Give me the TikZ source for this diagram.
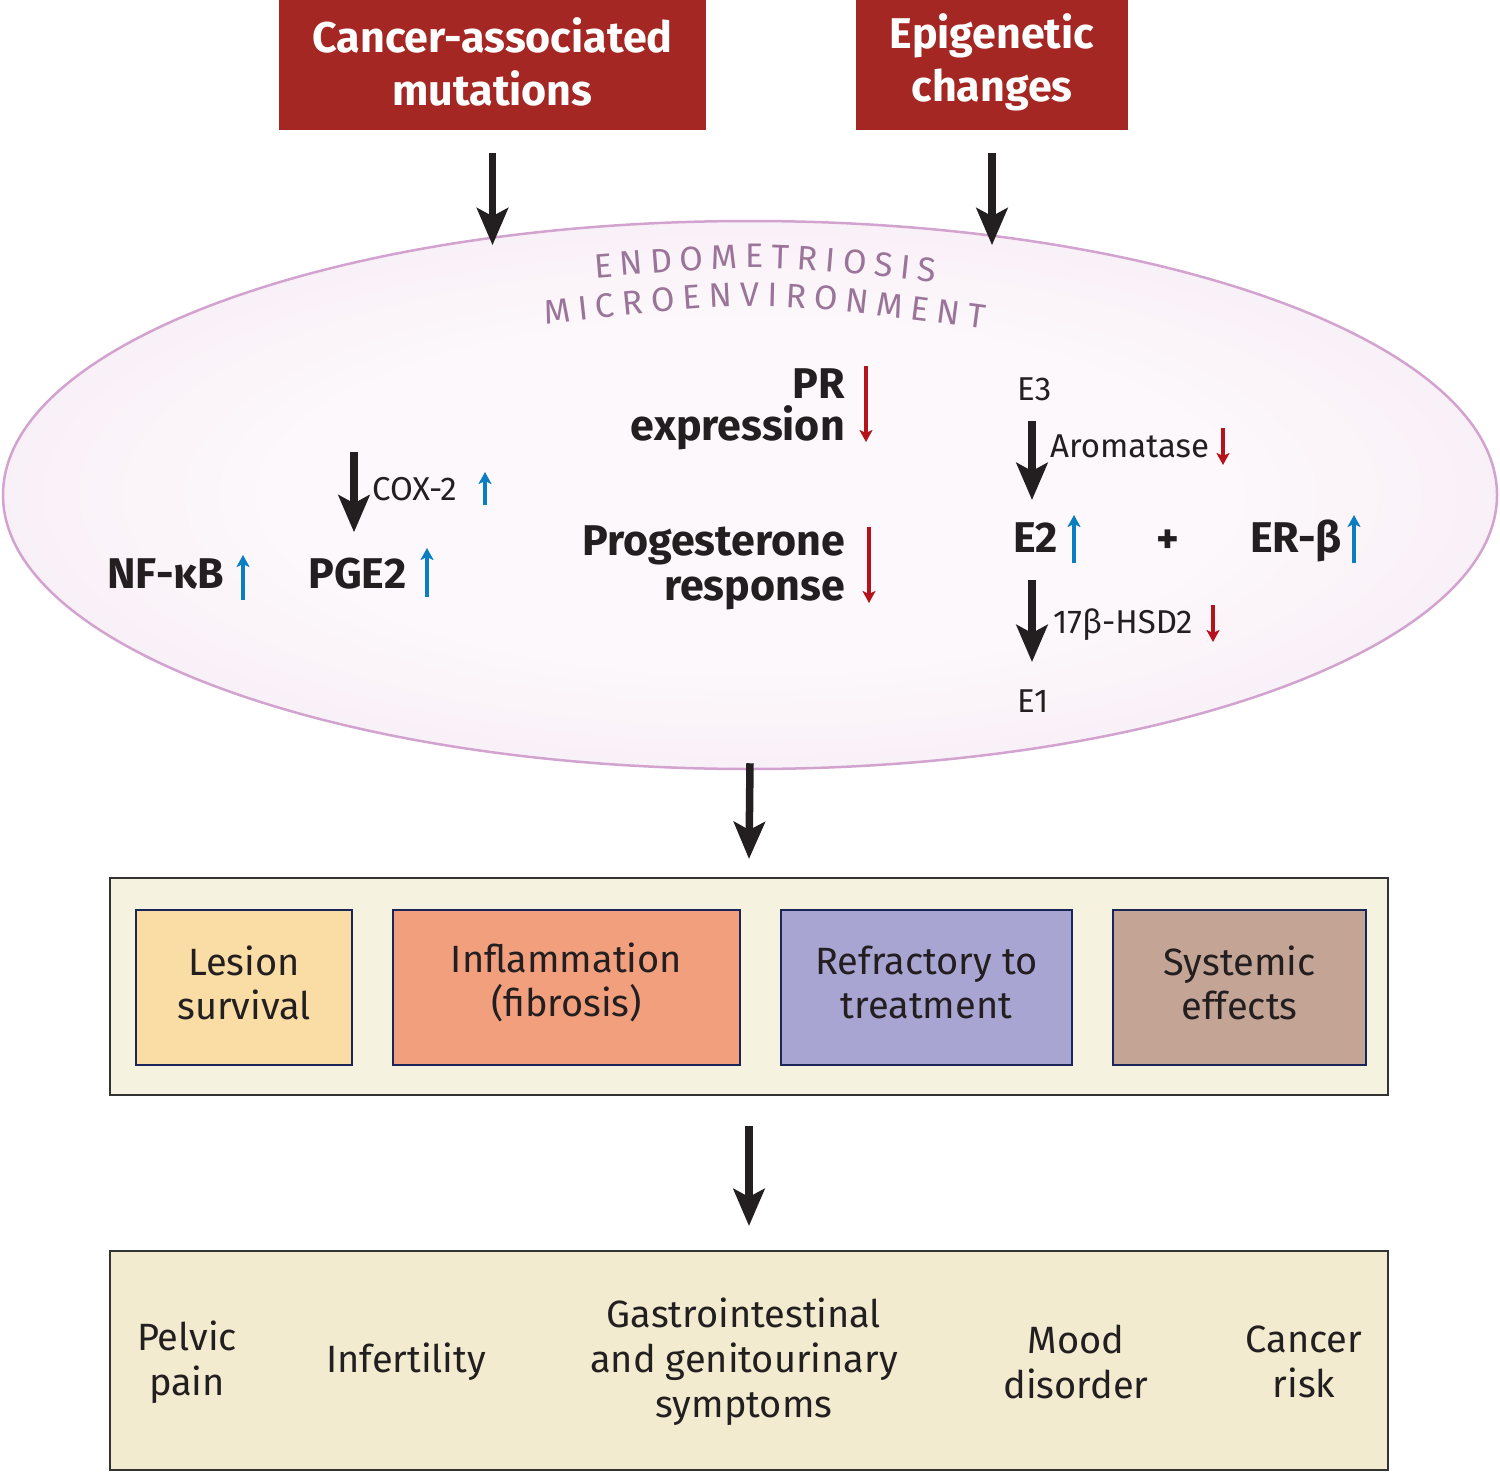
\documentclass[tikz,border=0pt]{standalone}
\usepackage{fontspec}
\setmainfont{Fira Sans}
\usetikzlibrary{arrows.meta,decorations.text,shapes.geometric}
\definecolor{boxred}{HTML}{A52723}
\definecolor{ellout}{HTML}{EDCDE9}
\definecolor{ellmid}{HTML}{F6E7F3}
\definecolor{ellin}{HTML}{FCF8FB}
\definecolor{elledge}{HTML}{D2A3CF}
\definecolor{mauve}{HTML}{9A7599}
\definecolor{upblue}{HTML}{0B7DC1}
\definecolor{downred}{HTML}{B5121B}
\definecolor{creamA}{HTML}{F6F2E0}
\definecolor{creamB}{HTML}{F2EBCF}
\definecolor{lesion}{HTML}{FADCA5}
\definecolor{inflam}{HTML}{F29F7E}
\definecolor{refract}{HTML}{A9A5D3}
\definecolor{systemc}{HTML}{C4A494}
\definecolor{navy}{HTML}{1C2557}
\definecolor{txt}{HTML}{231F20}
\pgfdeclareradialshading{ellshade}{\pgfpoint{0bp}{0bp}}{color(0bp)=(ellin); color(16bp)=(ellin); color(36bp)=(ellmid); color(50bp)=(ellout)}
\begin{document}
\begin{tikzpicture}[x=1pt,y=-1pt,
  blackarrow/.style={draw=txt, line width=7.5pt, -{Stealth[length=37pt,width=31pt,inset=8pt]}},
  uparrow/.style={draw=upblue, line width=3.5pt, -{Stealth[length=12pt,width=13pt,inset=3pt]}},
  dnarrow/.style={draw=downred, line width=3.5pt, -{Stealth[length=12pt,width=13pt,inset=3pt]}},
  redbox/.style={fill=boxred, inner sep=0pt},
  redtext/.style={inner sep=0pt, text=white, align=center, font=\bfseries\fontsize{43}{53}\selectfont},
  lbl/.style={inner sep=0pt, text=txt},
  boldlbl/.style={lbl, font=\bfseries\fontsize{43}{43}\selectfont},
  smalllbl/.style={lbl, font=\fontsize{33}{33}\selectfont},
  outerbox/.style={draw=black!80, line width=2pt, inner sep=0pt},
  catbox/.style={draw=navy, line width=2pt, inner sep=0pt, minimum height=155pt},
  cattext/.style={inner sep=0pt, align=center, text=txt, font=\fontsize{38}{44}\selectfont},
  sympt/.style={inner sep=0pt, align=center, text=txt, font=\fontsize{38}{45}\selectfont}
]
\useasboundingbox (0,0) rectangle (1500,1472);

% top boxes
\node[redbox, minimum width=427pt, minimum height=130pt] (mut) at (492.5,65) {};
\node[redtext] (mutt) at ([yshift=3pt]mut.center) {Cancer-associated\\mutations};
\node[redbox, minimum width=272pt, minimum height=130pt] (epi) at (992,65) {};
\node[redtext] (epit) at ([yshift=3pt]epi.center) {Epigenetic\\changes};

% ellipse
\node[ellipse, minimum width=1494pt, minimum height=548pt, draw=elledge, line width=2.5pt, shading=ellshade, inner sep=0pt] (env) at (750,495) {};

\draw[blackarrow] ([yshift=-23pt]mut.south) -- ([yshift=-115pt]mut.south);
\draw[blackarrow] ([yshift=-23pt]epi.south) -- ([yshift=-115pt]epi.south);

% curved title
\path[decorate, decoration={text along path, text align=fit to path,
  text={|\fontsize{34}{34}\selectfont\color{mauve}|ENDOMETRIOSIS}}]
  (595,278) .. controls (765,264) .. (935,282);
\path[decorate, decoration={text along path, text align=fit to path,
  text={|\fontsize{34}{34}\selectfont\color{mauve}|MICROENVIRONMENT}}]
  (545,324) .. controls (764,300) .. (984,329);

% PR / progesterone
\node[boldlbl, anchor=base east] (pr) at (845,398) {PR};
\node[boldlbl, anchor=base east] (prexp) at (845,440) {expression};
\node[boldlbl, anchor=base east] (prog) at (845,555) {Progesterone};
\node[boldlbl, anchor=base east] (resp) at (845,600) {response};
\draw[dnarrow] (866,366) -- (866,442);
\draw[dnarrow] (869,527) -- (869,603);

% NF-kB / PGE2
\node[boldlbl, anchor=base west] (nfkb) at (107,588) {NF-κB};
\node[boldlbl, anchor=base west] (pge) at (308,588) {PGE2};
\node[smalllbl, anchor=base west] (cox) at (372,500) {COX-2};
\coordinate (coxtop) at (354,452);
\draw[blackarrow, shorten >=25pt] (coxtop) -- (coxtop |- pge.north);
\draw[uparrow] (243,600) -- (243,555);
\draw[uparrow] (427,597) -- (427,548);
\draw[uparrow] (485,505) -- (485,472);

% estrogen
\node[smalllbl, anchor=base west] (e3) at (1017,400) {E3};
\node[smalllbl, anchor=base west] (arom) at (1050,457) {Aromatase};
\node[boldlbl, anchor=base west] (e2) at (1013,552) {E2};
\node[boldlbl] (plus) at (1168,542) {+};
\node[boldlbl, anchor=base west] (erb) at (1250,552) {ER-β};
\node[smalllbl, anchor=base west] (hsd) at (1053,633) {17β-HSD2};
\node[smalllbl, anchor=base west] (e1) at (1017,712) {E1};
\coordinate (ecol) at (1032,0);
\draw[blackarrow, shorten <=20pt, shorten >=22pt] (ecol |- e3.south) -- (ecol |- e2.north);
\draw[blackarrow, shorten <=28pt, shorten >=27pt] (ecol |- e2.south) -- (ecol |- e1.north);
\draw[dnarrow] (1223,428) -- (1223,465);
\draw[dnarrow] (1213,605) -- (1213,642);
\draw[uparrow] (1074,563) -- (1074,515);
\draw[uparrow] (1354,563) -- (1354,515);

% effects box
\node[outerbox, fill=creamA, minimum width=1278pt, minimum height=217pt] (eff) at (749,986.5) {};
\node[catbox, fill=lesion, minimum width=216pt] (les) at (244,987.5) {};
\node[cattext] (lest) at ([yshift=5pt]les.center) {Lesion\\survival};
\node[catbox, fill=inflam, minimum width=347pt] (inf) at (566.5,987.5) {};
\node[cattext] (inft) at ([yshift=5pt]inf.center) {Inflammation\\(fibrosis)};
\node[catbox, fill=refract, minimum width=291pt] (ref) at (926.5,987.5) {};
\node[cattext] (reft) at ([yshift=5pt]ref.center) {Refractory to\\treatment};
\node[catbox, fill=systemc, minimum width=253pt] (sys) at (1239.5,987.5) {};
\node[cattext] (syst) at ([yshift=5pt]sys.center) {Systemic\\effects};

\draw[blackarrow] ([yshift=7pt]env.south) -- ([yshift=18pt]eff.north);

% symptoms box
\node[outerbox, fill=creamB, minimum width=1278pt, minimum height=219pt] (sym) at (749,1360.5) {};
\draw[blackarrow] ([yshift=-30pt]eff.south) -- ([yshift=24pt]sym.north);
\node[sympt] (pel) at (187,1362) {Pelvic\\pain};
\node[sympt] (infer) at (406,1362) {Infertility};
\node[sympt] (gi) at (744,1362) {Gastrointestinal\\and genitourinary\\symptoms};
\node[sympt] (mood) at (1076,1362) {Mood\\disorder};
\node[sympt] (can) at (1304,1362) {Cancer\\risk};
\end{tikzpicture}
\end{document}
